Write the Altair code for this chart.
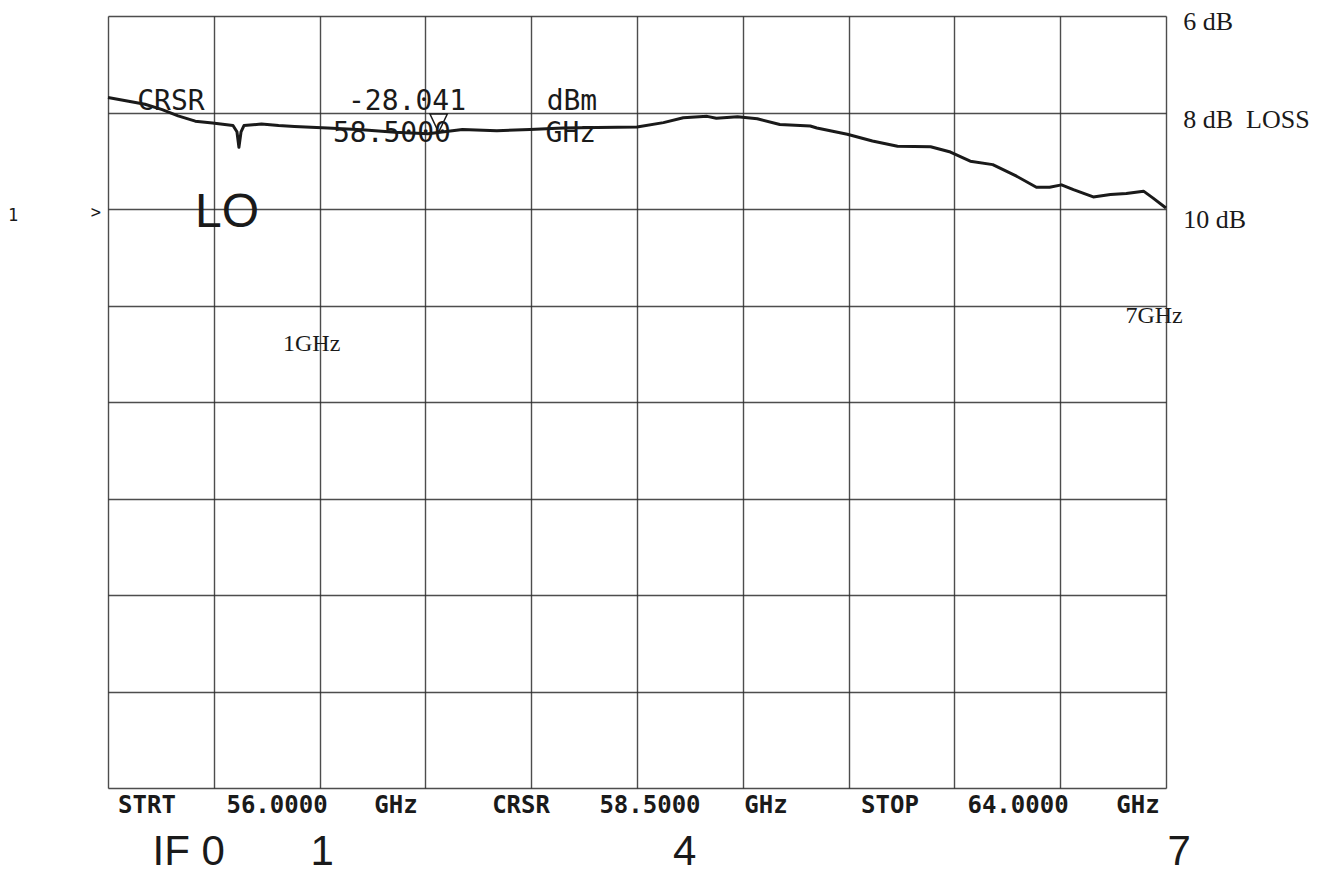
import altair as alt
import pandas as pd

# ---- trace (frequency in GHz, loss in dB) ----
trace_freq_ghz = [56.00, 56.28, 56.41, 56.53, 56.66, 56.79, 56.945, 56.975, 56.99, 57.006,
                  57.028, 57.16, 57.29, 57.41, 57.66, 57.92, 58.17, 58.42, 58.68, 58.94,
                  59.19, 59.44, 59.70, 60.00, 60.20, 60.35, 60.53, 60.60, 60.76, 60.91,
                  61.08, 61.31, 61.36, 61.59, 61.78, 61.97, 62.22, 62.37, 62.52, 62.69,
                  62.87, 63.02, 63.12, 63.21, 63.30, 63.45, 63.58, 63.70, 63.83, 63.90, 64.00]
trace_loss_db = [7.69, 7.83, 7.94, 8.07, 8.18, 8.22, 8.27, 8.40, 8.72, 8.40,
                 8.27, 8.24, 8.27, 8.29, 8.32, 8.36, 8.41, 8.44, 8.35, 8.38,
                 8.35, 8.32, 8.31, 8.30, 8.21, 8.11, 8.08, 8.12, 8.09, 8.13,
                 8.25, 8.28, 8.32, 8.45, 8.59, 8.70, 8.71, 8.82, 9.01, 9.08,
                 9.32, 9.55, 9.55, 9.50, 9.60, 9.75, 9.70, 9.68, 9.63, 9.77, 9.98]

cursor_freq_ghz = [58.5]
cursor_loss_db = [8.41]

grid_freq_ghz = [56.0, 56.8, 57.6, 58.4, 59.2, 60.0, 60.8, 61.6, 62.4, 63.2, 64.0]
grid_loss_db = [6, 8, 10, 12, 14, 16, 18, 20, 22]

# ---- annotation texts ----
readout_text = ["CRSR", "-28.041", "dBm", "58.5000", "GHz"]
readout_freq = [56.476, 58.261, 59.508, 58.147, 59.50]
readout_loss = [7.78, 7.78, 7.78, 8.45, 8.45]

footer_text = ["STRT", "56.0000", "GHz", "CRSR", "58.5000", "GHz", "STOP", "64.0000", "GHz"]
footer_freq = [56.295, 57.278, 58.178, 59.123, 60.098, 60.975, 61.913, 62.881, 63.788]
footer_loss = [22.38] * 9

scale_text = ["6 dB", "8 dB\u00a0\u00a0LOSS", "10 dB"]
scale_freq = [64.13, 64.13, 64.13]
scale_loss = [6.12, 8.16, 10.23]

band_text = ["1GHz", "7GHz"]
band_freq = [57.54, 63.91]
band_loss = [12.80, 12.22]

if_text = ["IF 0", "1", "4", "7"]
if_freq = [56.61, 57.62, 60.36, 64.10]
if_loss = [23.33] * 4

lo_text = ["LO"]
lo_freq = [56.90]
lo_loss = [10.08]

ref_text = ["1", ">"]
ref_freq = [55.282, 55.909]
ref_loss = [10.15, 10.08]

GRID = "#2e2e2e"
INK = "#1a1a1a"

X = alt.X("freq:Q", title="",
          scale=alt.Scale(domain=[56, 64], nice=False, zero=False),
          axis=alt.Axis(values=grid_freq_ghz, labels=False, ticks=False, domain=False,
                        grid=True, gridColor=GRID, gridWidth=1.4, gridOpacity=0.85))
Y = alt.Y("loss:Q", title="",
          scale=alt.Scale(domain=[6, 22], reverse=True, nice=False, zero=False),
          axis=alt.Axis(values=grid_loss_db, labels=False, ticks=False, domain=False,
                        grid=True, gridColor=GRID, gridWidth=1.4, gridOpacity=0.85))


def frame(texts, freqs, losses):
    return pd.DataFrame({"label": texts, "freq": freqs, "loss": losses})


trace = alt.Chart(pd.DataFrame({"freq": trace_freq_ghz, "loss": trace_loss_db})).mark_line(
    color=INK, strokeWidth=3, strokeJoin="round").encode(x=X, y=Y)

marker = alt.Chart(pd.DataFrame({"freq": cursor_freq_ghz, "loss": cursor_loss_db})).mark_point(
    shape="M-1,-2.1L1,-2.1L0,0Z", size=300, filled=True, fill="white",
    stroke=INK, strokeWidth=1.5, opacity=1).encode(x=X, y=Y)


def texts(df, **kw):
    return alt.Chart(df).mark_text(baseline="middle", color=INK, **kw).encode(
        x=X, y=Y, text="label:N")


readout = texts(frame(readout_text, readout_freq, readout_loss),
                font="DejaVu Sans Mono", fontSize=28, align="center")
footer = texts(frame(footer_text, footer_freq, footer_loss),
               font="DejaVu Sans Mono", fontSize=24, fontWeight="bold", align="center")
scale_lbl = texts(frame(scale_text, scale_freq, scale_loss),
                  font="Liberation Serif", fontSize=26, align="left")
band_lbl = texts(frame(band_text, band_freq, band_loss),
                 font="Liberation Serif", fontSize=24, align="center")
if_lbl = texts(frame(if_text, if_freq, if_loss),
               font="Liberation Sans", fontSize=42, align="center")
lo_lbl = texts(frame(lo_text, lo_freq, lo_loss),
               font="Liberation Sans", fontSize=48, align="center")
ref_lbl = texts(frame(ref_text, ref_freq, ref_loss),
                font="DejaVu Sans Mono", fontSize=17, align="center")

chart = alt.layer(trace, marker, readout, footer, scale_lbl, band_lbl, if_lbl, lo_lbl, ref_lbl).properties(
    width=1058, height=772,
    autosize=alt.AutoSizeParams(type="none"),
    padding={"left": 100, "top": 8, "right": 157, "bottom": 85},
    background="white",
).configure_view(strokeWidth=0)

chart.save("out.html", embed_options={"renderer": "svg", "actions": False})
